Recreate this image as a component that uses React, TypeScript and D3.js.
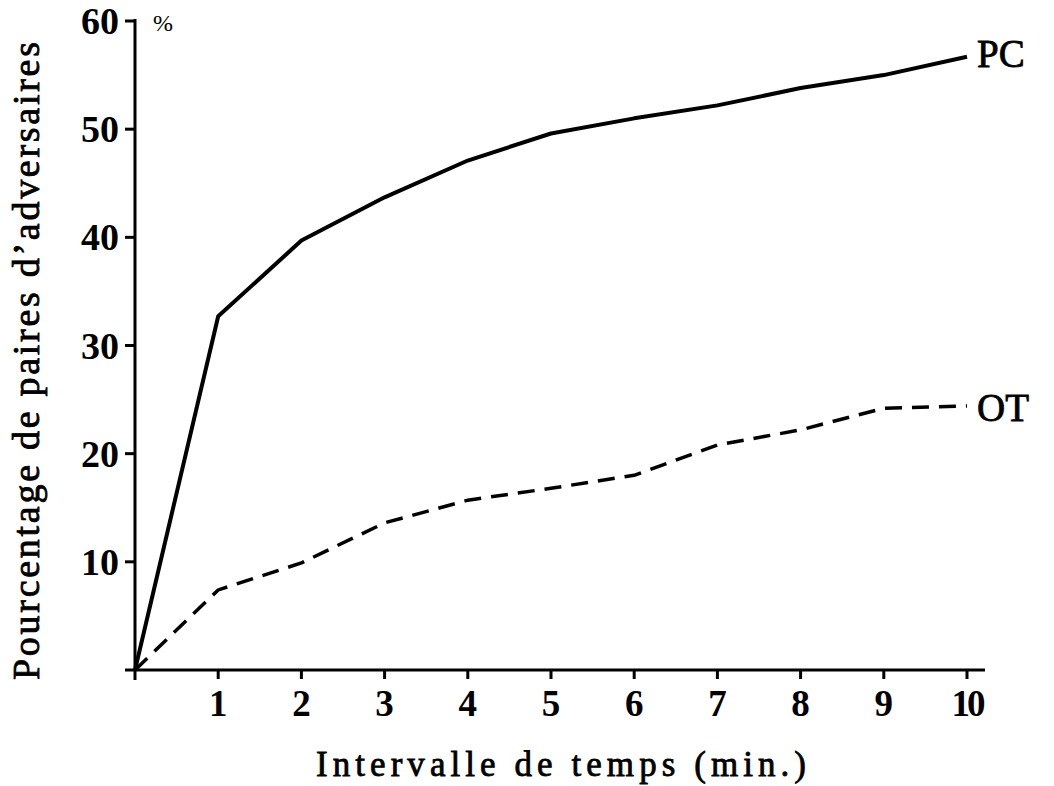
import React from 'react';
import * as d3 from 'd3';

const minutes = [0, 1, 2, 3, 4, 5, 6, 7, 8, 9, 10];
const pcValues = [0, 32.7, 39.7, 43.7, 47.1, 49.6, 51.0, 52.2, 53.8, 55.0, 56.7];
const otValues = [0, 7.4, 9.9, 13.6, 15.7, 16.8, 18.0, 20.8, 22.2, 24.2, 24.4];
const xTicks = [1, 2, 3, 4, 5, 6, 7, 8, 9, 10];
const yTicks = [10, 20, 30, 40, 50, 60];

const W = 1054, H = 786;
const font = '"Liberation Serif", "DejaVu Serif", serif';

const App = () => {
    const x = d3.scaleLinear().domain([0, 10]).range([135, 967]);
    const y = d3.scaleLinear().domain([0, 60]).range([670, 21]);

    const line = d3.line<number>()
        .x((d, i) => x(minutes[i]))
        .y((d) => y(d));

    return (
        <svg width={W} height={H} style={{ position: 'absolute', left: 0, top: 0, background: '#fff' }}>
            {/* axes */}
            <line x1={x(0)} x2={x(0)} y1={y(60) - 2} y2={y(0) + 10} stroke="#000" strokeWidth={3} />
            <line x1={x(0) - 10} x2={985} y1={y(0)} y2={y(0)} stroke="#000" strokeWidth={3} />

            {yTicks.map((t) => (
                <g key={t}>
                    <line x1={x(0) - 10} x2={x(0)} y1={y(t)} y2={y(t)} stroke="#000" strokeWidth={3} />
                    <text x={119} y={y(t) + 13} textAnchor="end" fontFamily={font} fontWeight="bold"
                        fontSize={38}>{t}</text>
                </g>
            ))}
            {xTicks.map((t) => (
                <g key={t}>
                    <line x1={x(t)} x2={x(t)} y1={y(0)} y2={y(0) + 9} stroke="#000" strokeWidth={3} />
                    <text x={x(t)} y={716} textAnchor="middle" fontFamily={font} fontWeight="bold"
                        fontSize={37} letterSpacing={t === 10 ? -3 : 0}>{t}</text>
                </g>
            ))}

            <text x={153} y={31} fontFamily={font} fontSize={24}>%</text>

            {/* series */}
            <path d={line(pcValues) || ''} fill="none" stroke="#000" strokeWidth={4} strokeLinejoin="round" />
            <path d={line(otValues) || ''} fill="none" stroke="#000" strokeWidth={3.5} strokeDasharray="17 10" />

            <text x={977} y={67} fontFamily={font} fontSize={39} stroke="#000" strokeWidth={0.8}>PC</text>
            <text x={977} y={421} fontFamily={font} fontSize={39} stroke="#000" strokeWidth={0.8}>OT</text>

            {/* axis titles */}
            <text x={316} y={776} fontFamily={font} fontSize={35} stroke="#000" strokeWidth={0.8}
                textLength={490} lengthAdjust="spacing">Intervalle de temps  (min.)</text>
            <text transform={`translate(39, 680) rotate(-90)`} fontFamily={font}
                fontSize={38} stroke="#000" strokeWidth={0.8} textLength={638} lengthAdjust="spacing">
                Pourcentage de paires d’adversaires
            </text>
        </svg>
    );
};

export default App;
